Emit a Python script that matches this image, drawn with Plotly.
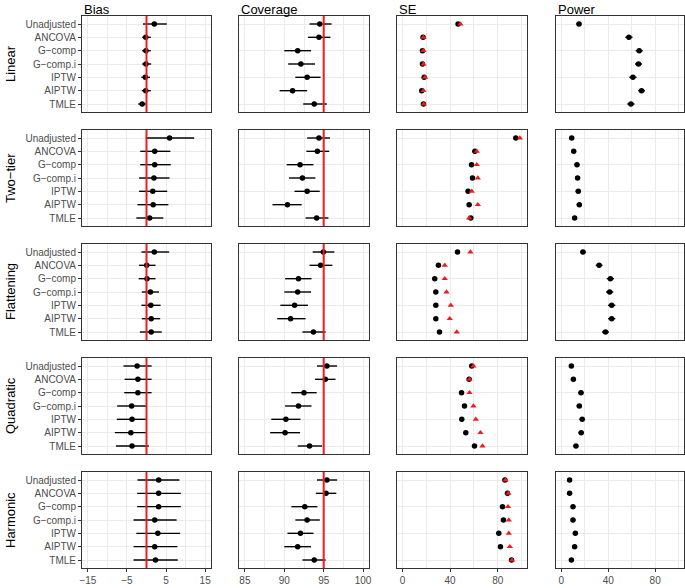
import plotly.graph_objects as go
from plotly.subplots import make_subplots

M = "\u2212"
methods = ["Unadjusted", "ANCOVA", "G" + M + "comp", "G" + M + "comp.i", "IPTW", "AIPTW", "TMLE"]
scenarios = ["Linear", "Two" + M + "tier", "Flattening", "Quadratic", "Harmonic"]
columns = ["Bias", "Coverage", "SE", "Power"]

# Bias: estimate, lower, upper
bias_est = {
    "Linear":     [2.0, -0.2, -0.15, -0.15, -0.3, -0.2, -1.1],
    "Two-tier":   [5.9, 2.1, 2.1, 1.9, 1.6, 1.7, 0.8],
    "Flattening": [2.0, 0.05, 0.13, 1.0, 1.1, 1.2, 1.2],
    "Quadratic":  [-2.4, -2.2, -2.2, -3.8, -3.7, -4.0, -3.7],
    "Harmonic":   [3.1, 3.1, 3.1, 2.1, 2.9, 2.1, 2.3],
}
bias_lo = {
    "Linear":     [-0.9, -1.1, -1.1, -1.1, -1.3, -1.2, -2.1],
    "Two-tier":   [-0.2, -1.6, -1.6, -1.9, -1.9, -2.3, -2.6],
    "Flattening": [-1.3, -1.9, -2.0, -1.2, -1.3, -1.2, -1.7],
    "Quadratic":  [-5.9, -5.6, -5.7, -7.5, -7.6, -8.1, -7.8],
    "Harmonic":   [-2.3, -2.4, -2.4, -3.3, -2.6, -3.3, -3.3],
}
bias_hi = {
    "Linear":     [5.2, 1.1, 1.1, 1.2, 0.9, 1.1, 0.05],
    "Two-tier":   [12.2, 6.1, 6.2, 5.9, 5.3, 5.6, 4.3],
    "Flattening": [5.8, 2.3, 2.3, 3.2, 3.6, 3.5, 3.9],
    "Quadratic":  [1.3, 1.3, 1.3, -0.1, 0.05, -0.1, 0.6],
    "Harmonic":   [8.4, 8.8, 8.8, 7.7, 8.6, 7.9, 8.0],
}

# Coverage (%): estimate, lower, upper
cov_est = {
    "Linear":     [94.5, 94.4, 91.7, 92.1, 92.9, 91.05, 93.8],
    "Two-tier":   [94.4, 94.2, 92.0, 92.3, 92.9, 90.4, 94.1],
    "Flattening": [94.95, 94.6, 91.8, 91.7, 91.3, 90.8, 93.7],
    "Quadratic":  [95.4, 95.2, 92.5, 91.8, 90.2, 90.1, 93.2],
    "Harmonic":   [95.4, 95.3, 92.6, 92.9, 92.05, 91.7, 93.8],
}
cov_lo = {
    "Linear":     [93.2, 93.0, 90.0, 90.5, 91.4, 89.4, 92.4],
    "Two-tier":   [92.9, 92.8, 90.3, 90.6, 91.3, 88.5, 92.7],
    "Flattening": [93.6, 93.2, 90.1, 90.0, 89.5, 89.1, 92.3],
    "Quadratic":  [94.15, 93.9, 90.9, 90.1, 88.35, 88.2, 91.7],
    "Harmonic":   [94.15, 94.0, 90.9, 91.4, 90.4, 90.0, 92.3],
}
cov_hi = {
    "Linear":     [96.0, 95.85, 93.4, 93.9, 94.6, 92.9, 95.4],
    "Two-tier":   [95.8, 95.7, 93.7, 93.95, 94.5, 92.2, 95.6],
    "Flattening": [96.35, 96.1, 93.45, 93.4, 93.0, 92.7, 95.25],
    "Quadratic":  [96.7, 96.5, 94.1, 93.45, 92.05, 92.0, 94.8],
    "Harmonic":   [96.7, 96.6, 94.2, 94.5, 93.7, 93.4, 95.25],
}

# SE: empirical (black) and model-based (red)
se_emp = {
    "Linear":     [46.7, 17.3, 16.8, 16.8, 18.2, 16.2, 17.6],
    "Two-tier":   [95.2, 60.8, 58.0, 58.8, 55.1, 56.0, 57.4],
    "Flattening": [46.2, 30.2, 27.1, 28.0, 28.0, 28.0, 31.1],
    "Quadratic":  [58.2, 56.0, 49.6, 52.1, 49.8, 53.2, 60.5],
    "Harmonic":   [86.0, 88.2, 84.0, 84.8, 80.9, 82.3, 91.6],
}
se_mod = {
    "Linear":     [48.7, 17.6, 17.6, 17.6, 19.0, 17.6, 17.9],
    "Two-tier":   [98.6, 62.4, 62.4, 63.3, 58.2, 63.3, 56.0],
    "Flattening": [57.1, 35.5, 35.5, 37.0, 40.6, 39.7, 45.6],
    "Quadratic":  [59.6, 56.3, 56.3, 59.6, 61.6, 65.5, 67.2],
    "Harmonic":   [86.5, 89.0, 88.7, 89.3, 89.3, 90.2, 92.0],
}

# Power (%): estimate and half-width of interval
power_est = {
    "Linear":     [15.0, 57.6, 66.4, 65.8, 61.0, 68.4, 59.3],
    "Two-tier":   [8.8, 10.5, 13.3, 13.8, 14.4, 15.3, 11.3],
    "Flattening": [18.4, 32.2, 41.8, 41.2, 42.9, 42.9, 37.6],
    "Quadratic":  [8.5, 10.2, 16.7, 15.3, 17.8, 16.9, 12.4],
    "Harmonic":   [7.0, 7.0, 9.9, 9.9, 11.9, 11.3, 8.5],
}
power_err = {
    "Linear":     [2.2, 3.1, 3.0, 3.0, 3.1, 2.9, 3.1],
    "Two-tier":   [1.8, 1.9, 2.1, 2.2, 2.2, 2.3, 2.0],
    "Flattening": [2.4, 2.9, 3.1, 3.1, 3.1, 3.1, 3.0],
    "Quadratic":  [1.7, 1.9, 2.3, 2.3, 2.4, 2.4, 2.1],
    "Harmonic":   [1.6, 1.6, 1.9, 1.9, 2.0, 2.0, 1.8],
}

bias_ref = 0
cov_ref = 95

keys = ["Linear", "Two-tier", "Flattening", "Quadratic", "Harmonic"]

W, H = 685, 588
col_px = [(82, 211), (239, 369), (397, 527), (556, 684)]
PANEL_H, STEP, TOP = 96.0, 114.0, 16.0
row_px = [(TOP + i * STEP, TOP + i * STEP + PANEL_H) for i in range(5)]

x_ranges = [[-16.5, 16.5], [84.25, 100.75], [-4.6, 104.6], [-4.6, 104.6]]
x_ticks = [[-15, -5, 5, 15], [85, 90, 95, 100], [0, 40, 80], [0, 40, 80]]
x_minor = [[-10, 0, 10], [87.5, 92.5, 97.5], [20, 60, 100], [20, 60, 100]]

fig = make_subplots(rows=5, cols=4)

BLACK = "#000000"
RED = "#f21b1b"
FONT = "Liberation Sans, Arial, sans-serif"
MS = 5.5

for r, key in enumerate(keys):
    est = bias_est[key]
    fig.add_trace(go.Scatter(
        x=est, y=methods, mode="markers",
        marker=dict(color=BLACK, size=MS),
        error_x=dict(type="data", symmetric=False,
                     array=[h - e for h, e in zip(bias_hi[key], est)],
                     arrayminus=[e - l for l, e in zip(bias_lo[key], est)],
                     color=BLACK, thickness=1.4, width=0),
        showlegend=False, hoverinfo="x+y"), row=r + 1, col=1)
    est = cov_est[key]
    fig.add_trace(go.Scatter(
        x=est, y=methods, mode="markers",
        marker=dict(color=BLACK, size=MS),
        error_x=dict(type="data", symmetric=False,
                     array=[h - e for h, e in zip(cov_hi[key], est)],
                     arrayminus=[e - l for l, e in zip(cov_lo[key], est)],
                     color=BLACK, thickness=1.4, width=0),
        showlegend=False, hoverinfo="x+y"), row=r + 1, col=2)
    fig.add_trace(go.Scatter(
        x=se_emp[key], y=methods, mode="markers",
        marker=dict(color=BLACK, size=MS),
        showlegend=False, hoverinfo="x+y"), row=r + 1, col=3)
    fig.add_trace(go.Scatter(
        x=se_mod[key], y=methods, mode="markers",
        marker=dict(color=RED, size=MS, symbol="triangle-up"),
        showlegend=False, hoverinfo="x+y"), row=r + 1, col=3)
    fig.add_trace(go.Scatter(
        x=power_est[key], y=methods, mode="markers",
        marker=dict(color=BLACK, size=MS),
        error_x=dict(type="data", array=power_err[key],
                     color=BLACK, thickness=1.4, width=0),
        showlegend=False, hoverinfo="x+y"), row=r + 1, col=4)

shapes = []
annotations = []
for r in range(5):
    for c in range(4):
        idx = r * 4 + c + 1
        sfx = "" if idx == 1 else str(idx)
        x0, x1 = col_px[c]
        y0, y1 = row_px[r]
        bottom = (r == 4)
        fig.layout["xaxis" + sfx].update(
            domain=[x0 / W, x1 / W], range=x_ranges[c], autorange=False,
            tickmode="array", tickvals=x_ticks[c],
            showticklabels=bottom, ticks="outside" if bottom else "",
            ticklen=3, tickwidth=1, tickcolor="#333333",
            tickfont=dict(size=10, color="#4d4d4d", family=FONT),
            showgrid=True, gridcolor="#ebebeb", gridwidth=1.1,
            minor=dict(tickmode="array", tickvals=x_minor[c], showgrid=True,
                       gridcolor="#ebebeb", gridwidth=0.6, ticks=""),
            zeroline=False, showline=True, mirror=True,
            linecolor="#333333", linewidth=1, automargin=False,
            anchor="y" + sfx,
        )
        first = (c == 0)
        fig.layout["yaxis" + sfx].update(
            domain=[1 - y1 / H, 1 - y0 / H], type="category",
            categoryorder="array", categoryarray=methods,
            range=[6.6, -0.6], autorange=False,
            showticklabels=first, ticks="outside" if first else "",
            ticklen=3, tickwidth=1, tickcolor="#333333",
            tickfont=dict(size=10, color="#4d4d4d", family=FONT),
            showgrid=True, gridcolor="#ebebeb", gridwidth=1.1,
            zeroline=False, showline=True, mirror=True,
            linecolor="#333333", linewidth=1, automargin=False,
            anchor="x" + sfx,
        )
        if c in (0, 1):
            ref = bias_ref if c == 0 else cov_ref
            shapes.append(dict(type="line", xref="x" + sfx, yref="paper",
                               x0=ref, x1=ref, y0=1 - y1 / H, y1=1 - y0 / H,
                               line=dict(color=RED, width=2), layer="above"))
    y0, y1 = row_px[r]
    annotations.append(dict(text=scenarios[r], x=10 / W, y=1 - (y0 + y1) / 2 / H,
                            xref="paper", yref="paper", showarrow=False,
                            textangle=-90, xanchor="center", yanchor="middle",
                            font=dict(size=13, color="#000000", family=FONT)))

for c in range(4):
    annotations.append(dict(text=columns[c], x=col_px[c][0] / W, y=1.0,
                            xref="paper", yref="paper", showarrow=False,
                            xanchor="left", yanchor="top",
                            font=dict(size=13, color="#000000", family=FONT)))

fig.update_layout(
    width=W, height=H, margin=dict(l=0, r=0, t=0, b=0),
    paper_bgcolor="white", plot_bgcolor="white",
    shapes=shapes, annotations=annotations, showlegend=False,
    font=dict(family=FONT),
)

fig.write_html("out.html", config={"displayModeBar": False})

# remove the browser's default body margin so the figure sits at the page origin
with open("out.html", "r", encoding="utf-8") as f:
    html = f.read()
html = html.replace("<body>", '<body style="margin:0;padding:0;">', 1)
with open("out.html", "w", encoding="utf-8") as f:
    f.write(html)
